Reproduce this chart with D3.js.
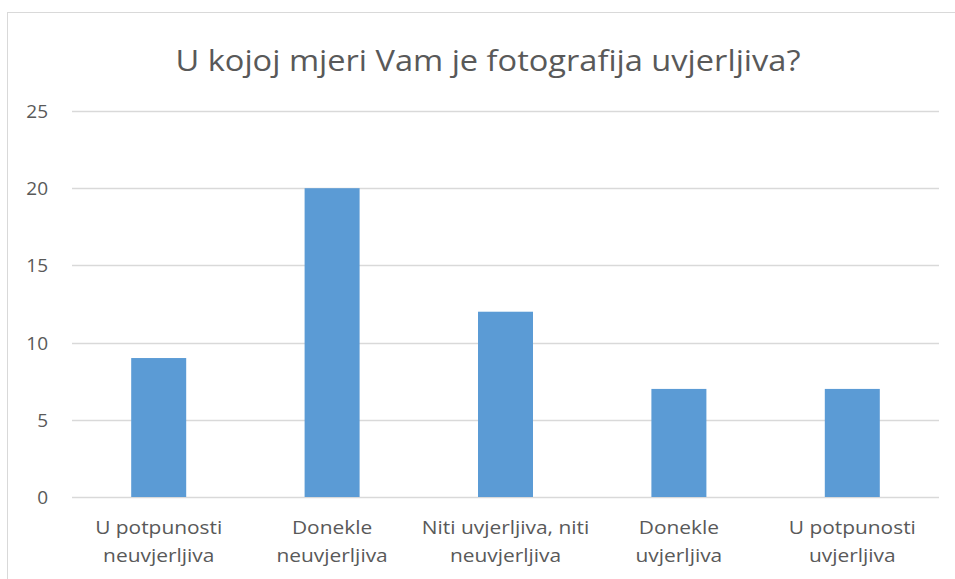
<!DOCTYPE html>
<html>
<head>
<meta charset="utf-8">
<script src="https://cdn.jsdelivr.net/npm/d3@7"></script>
<style>
  body { margin: 0; background: #fff; }
  text { font-family: "Open Sans", "Noto Sans", sans-serif; fill: #595959; }
</style>
</head>
<body>
<script>
var categories = [
  ["U potpunosti", "neuvjerljiva"],
  ["Donekle", "neuvjerljiva"],
  ["Niti uvjerljiva, niti", "neuvjerljiva"],
  ["Donekle", "uvjerljiva"],
  ["U potpunosti", "uvjerljiva"]
];
var values = [9, 20, 12, 7, 7];
var yTicks = [0, 5, 10, 15, 20, 25];
var title = "U kojoj mjeri Vam je fotografija uvjerljiva?";

var svgWidth = 955, svgHeight = 579;
var margin = {top: 111, right: 16, bottom: 82, left: 72},
    width = svgWidth - margin.left - margin.right,
    height = svgHeight - margin.top - margin.bottom;

var svg = d3.select("body").append("svg")
    .attr("width", svgWidth).attr("height", svgHeight);

// chart frame (left and top edges visible)
svg.append("rect")
    .attr("x", 7.5).attr("y", 12.5)
    .attr("width", 960).attr("height", 600)
    .attr("fill", "none").attr("stroke", "#d9d9d9");

svg.append("text")
    .attr("x", 488).attr("y", 71)
    .attr("text-anchor", "middle")
    .attr("font-size", "29px")
    .attr("textLength", 625)
    .attr("lengthAdjust", "spacingAndGlyphs")
    .text(title);

var chartGroup = svg.append("g").attr("transform", `translate(${margin.left},${margin.top})`);

var xScale = d3.scaleBand().domain(d3.range(values.length)).range([0, width]);
var yScale = d3.scaleLinear().domain([0, 25]).range([height, 0]);
var barWidth = 55;

chartGroup.selectAll(".grid")
    .data(yTicks)
  .enter().append("line")
    .attr("x1", 0).attr("x2", width)
    .attr("y1", function(d) { return Math.round(yScale(d)) + 0.5; })
    .attr("y2", function(d) { return Math.round(yScale(d)) + 0.5; })
    .attr("stroke", "#d9d9d9").attr("stroke-width", 1.3);

chartGroup.selectAll(".ylab")
    .data(yTicks)
  .enter().append("text")
    .attr("x", -24)
    .attr("y", function(d) { return yScale(d) + 7; })
    .attr("text-anchor", "end")
    .attr("font-size", "19px")
    .text(function(d) { return d; });

chartGroup.selectAll(".bar")
    .data(values)
  .enter().append("rect")
    .attr("x", function(d, i) { return xScale(i) + xScale.bandwidth() / 2 - barWidth / 2; })
    .attr("y", function(d) { return yScale(d); })
    .attr("width", barWidth)
    .attr("height", function(d) { return height - yScale(d); })
    .attr("fill", "#5b9bd5");

// labels are stretched a little sideways to match the wider reference lettering
var labels = chartGroup.selectAll(".xlab")
    .data(categories)
  .enter().append("text")
    .attr("text-anchor", "middle")
    .attr("font-size", "19px")
    .attr("transform", function(d, i) { return "translate(" + (xScale(i) + xScale.bandwidth() / 2) + "," + (height + 37) + ") scale(1.1,1)"; });

labels.selectAll("tspan")
    .data(function(d) { return d; })
  .enter().append("tspan")
    .attr("x", 0)
    .attr("dy", function(d, i) { return i === 0 ? 0 : 28; })
    .text(function(d) { return d; });
</script>
</body>
</html>
